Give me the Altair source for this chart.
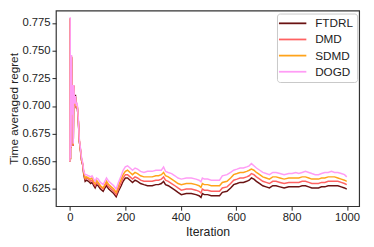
import altair as alt
import pandas as pd

iterations = [0, 1, 2, 3, 4, 6, 8, 10, 12, 14, 17, 20, 23, 26, 30, 34, 38, 42, 46, 50,
              55, 60, 67, 75, 80, 86, 91, 96, 102, 110, 120, 126, 132, 140, 149, 158, 167, 175, 185, 192,
              200, 208, 217, 226, 235, 244, 255, 267, 280, 297, 310, 320, 330, 338, 345, 355, 367, 379, 390, 402,
              420, 438, 455, 466, 473, 478, 485, 497, 510, 526, 540, 550, 567, 580, 591, 603, 614, 626, 638, 647,
              655, 664, 673, 685, 696, 708, 720, 732, 744, 758, 773, 790, 802, 815, 826, 838, 850, 862, 873, 885,
              897, 908, 920, 932, 944, 955, 967, 979, 991, 999]

ftdrl = [0.650, 0.779, 0.652, 0.734, 0.662, 0.744, 0.690, 0.717, 0.664, 0.718, 0.700, 0.710, 0.698, 0.701, 0.688, 0.668, 0.660, 0.651, 0.647, 0.638,
         0.632, 0.633, 0.632, 0.630, 0.631, 0.628, 0.626, 0.629, 0.628, 0.625, 0.623, 0.626, 0.628, 0.625, 0.623, 0.621, 0.618, 0.623, 0.628, 0.632,
         0.635, 0.635, 0.633, 0.631, 0.633, 0.632, 0.630, 0.629, 0.628, 0.628, 0.629, 0.629, 0.630, 0.632, 0.629, 0.628, 0.626, 0.624, 0.622, 0.620,
         0.621, 0.621, 0.620, 0.619, 0.6175, 0.621, 0.620, 0.620, 0.619, 0.619, 0.619, 0.622, 0.623, 0.626, 0.629, 0.630, 0.631, 0.631, 0.632, 0.633,
         0.635, 0.634, 0.632, 0.630, 0.628, 0.627, 0.626, 0.628, 0.628, 0.627, 0.626, 0.627, 0.627, 0.627, 0.627, 0.628, 0.628, 0.627, 0.626, 0.626,
         0.626, 0.627, 0.627, 0.628, 0.628, 0.628, 0.628, 0.627, 0.626, 0.625]

dmd = [0.650, 0.779, 0.652, 0.734, 0.662, 0.744, 0.690, 0.717, 0.664, 0.718, 0.700, 0.708, 0.698, 0.701, 0.688, 0.668, 0.660, 0.651, 0.647, 0.639,
       0.634, 0.635, 0.634, 0.632, 0.633, 0.630, 0.628, 0.631, 0.630, 0.627, 0.625, 0.628, 0.630, 0.627, 0.625, 0.623, 0.620, 0.625, 0.631, 0.635,
       0.638, 0.638, 0.636, 0.634, 0.636, 0.635, 0.633, 0.632, 0.632, 0.632, 0.633, 0.633, 0.634, 0.636, 0.633, 0.632, 0.630, 0.628, 0.626, 0.624,
       0.625, 0.625, 0.624, 0.623, 0.6215, 0.625, 0.624, 0.624, 0.623, 0.623, 0.623, 0.626, 0.627, 0.630, 0.633, 0.634, 0.635, 0.635, 0.636, 0.637,
       0.639, 0.638, 0.636, 0.634, 0.632, 0.631, 0.630, 0.632, 0.632, 0.631, 0.630, 0.631, 0.631, 0.631, 0.631, 0.632, 0.632, 0.631, 0.630, 0.630,
       0.630, 0.631, 0.631, 0.632, 0.632, 0.632, 0.632, 0.631, 0.630, 0.629]

sdmd = [0.650, 0.779, 0.652, 0.734, 0.662, 0.745, 0.691, 0.718, 0.665, 0.719, 0.701, 0.708, 0.699, 0.702, 0.689, 0.669, 0.661, 0.652, 0.648, 0.640,
        0.635, 0.636, 0.635, 0.634, 0.635, 0.632, 0.630, 0.633, 0.631, 0.628, 0.626, 0.629, 0.632, 0.629, 0.627, 0.625, 0.622, 0.628, 0.634, 0.638,
        0.641, 0.642, 0.640, 0.638, 0.640, 0.639, 0.637, 0.636, 0.636, 0.636, 0.637, 0.637, 0.638, 0.640, 0.637, 0.636, 0.634, 0.632, 0.630, 0.629,
        0.630, 0.630, 0.629, 0.628, 0.6265, 0.630, 0.629, 0.629, 0.628, 0.628, 0.628, 0.631, 0.632, 0.635, 0.638, 0.639, 0.640, 0.640, 0.641, 0.642,
        0.643, 0.642, 0.640, 0.638, 0.636, 0.635, 0.634, 0.636, 0.636, 0.635, 0.634, 0.635, 0.635, 0.635, 0.635, 0.636, 0.636, 0.635, 0.634, 0.634,
        0.634, 0.635, 0.635, 0.636, 0.636, 0.636, 0.635, 0.634, 0.633, 0.632]

dogd = [0.650, 0.780, 0.653, 0.735, 0.663, 0.746, 0.692, 0.719, 0.666, 0.719, 0.702, 0.709, 0.700, 0.703, 0.690, 0.670, 0.662, 0.653, 0.649, 0.641,
        0.638, 0.638, 0.637, 0.636, 0.637, 0.634, 0.632, 0.635, 0.634, 0.631, 0.629, 0.632, 0.635, 0.632, 0.630, 0.628, 0.625, 0.631, 0.637, 0.642,
        0.645, 0.646, 0.644, 0.642, 0.644, 0.643, 0.641, 0.640, 0.641, 0.641, 0.642, 0.642, 0.642, 0.645, 0.641, 0.640, 0.639, 0.637, 0.635, 0.634,
        0.635, 0.635, 0.634, 0.633, 0.6315, 0.635, 0.634, 0.634, 0.633, 0.633, 0.633, 0.637, 0.638, 0.640, 0.642, 0.643, 0.644, 0.644, 0.645, 0.646,
        0.648, 0.646, 0.644, 0.642, 0.640, 0.639, 0.638, 0.640, 0.640, 0.639, 0.638, 0.639, 0.639, 0.640, 0.639, 0.640, 0.641, 0.640, 0.639, 0.638,
        0.638, 0.639, 0.640, 0.640, 0.641, 0.640, 0.640, 0.639, 0.638, 0.636]

series_names = ["FTDRL", "DMD", "SDMD", "DOGD"]
series_colors = ["#6a1212", "#ff6262", "#ffa31a", "#ff9cf5"]
y_ticks = [0.625, 0.650, 0.675, 0.700, 0.725, 0.750, 0.775]
x_ticks = [0, 200, 400, 600, 800, 1000]

rows = []
for name, vals in zip(series_names, [ftdrl, dmd, sdmd, dogd]):
    for it, v in zip(iterations, vals):
        rows.append({"Iteration": it, "value": v, "Method": name})
df = pd.DataFrame(rows)

FONT = "Liberation Sans"

chart = alt.Chart(df).mark_line(strokeWidth=1.5, clip=True).encode(
    x=alt.X("Iteration:Q",
            scale=alt.Scale(domain=[-50.5, 1043.8], nice=False, zero=False),
            axis=alt.Axis(values=x_ticks, format="d", title="Iteration", grid=False, domain=False,
                          tickSize=4, tickColor="#222", labelPadding=2,
                          labelFontSize=11.5, labelColor="#222", titleFontSize=12.5,
                          titleFontWeight="normal", titleColor="#222", titlePadding=2,
                          labelFont=FONT, titleFont=FONT)),
    y=alt.Y("value:Q",
            scale=alt.Scale(domain=[0.6095, 0.7861], nice=False, zero=False),
            axis=alt.Axis(values=y_ticks, format=".3f", title="Time averaged regret", grid=False,
                          domain=False, tickSize=4, tickColor="#222", labelPadding=2,
                          labelFontSize=11.5, labelColor="#222", titleFontSize=12,
                          titleFontWeight="normal", titleColor="#222", titlePadding=1,
                          labelFont=FONT, titleFont=FONT)),
    color=alt.Color("Method:N",
                    scale=alt.Scale(domain=series_names, range=series_colors),
                    sort=series_names,
                    legend=alt.Legend(title=None, orient="none", legendX=226, legendY=3,
                                      symbolType="M-2.8,0L2.8,0", symbolSize=100, symbolStrokeWidth=1.8,
                                      symbolOffset=6,
                                      labelFontSize=12, labelFont=FONT, labelColor="#222",
                                      labelOffset=17, padding=4, rowPadding=4.5,
                                      fillColor="white", strokeColor="#c8c8c8",
                                      cornerRadius=3)),
    order=alt.Order("Iteration:Q"),
).properties(
    width=310, height=200,
    autosize=alt.AutoSizeParams(type="none"),
    padding={"left": 49, "top": 0, "right": 7, "bottom": 39},
).configure_view(stroke="#333", strokeWidth=1.2)

chart.save("out.html", embed_options={"renderer": "svg", "actions": False})
